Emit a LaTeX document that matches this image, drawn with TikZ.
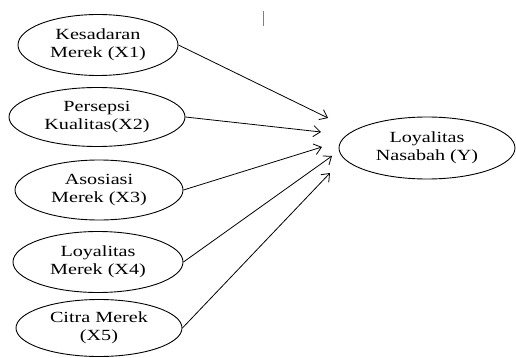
\documentclass[tikz,border=0pt]{standalone}
\usepackage{fontspec}
\setmainfont{Liberation Serif}[FakeStretch=1.3]
\usetikzlibrary{shapes.geometric,arrows.meta}

\begin{document}
\begin{tikzpicture}[x=1pt, y=-1pt,
        variabel/.style={ellipse, draw, line width=0.9pt, inner sep=0pt, align=center, font=\fontsize{15.5}{18.5}\selectfont},
        panah/.style={-{Straight Barb[length=7pt, width=11pt]}, line width=0.8pt}
    ]
    \useasboundingbox (0,0) rectangle (516,358);

    % Variabel
    \node[variabel, minimum width=160pt, minimum height=61pt] (kesadaran) at (98,45) {Kesadaran \\ Merek (X1)};
    \node[variabel, minimum width=176pt, minimum height=59pt] (persepsi) at (97,117) {Persepsi \\ Kualitas(X2)};
    \node[variabel, minimum width=168pt, minimum height=60pt] (asosiasi) at (99,190) {Asosiasi \\ Merek (X3)};
    \node[variabel, minimum width=170pt, minimum height=61pt] (loyalitas) at (98,262) {Loyalitas \\ Merek (X4)};
    \node[variabel, minimum width=166pt, minimum height=57pt] (citra) at (99,328) {Citra Merek \\ (X5)};
    \node[variabel, minimum width=176pt, minimum height=62pt] (nasabah) at (427,148) {Loyalitas \\ Nasabah (Y)};

    % Ujung panah
    \coordinate (u1) at (328,118);
    \coordinate (u2) at (321,132);
    \coordinate (u3) at (322,147);
    \coordinate (u4) at (332,156);
    \coordinate (u5) at (330,173);

    % Hubungan
    \draw[panah] (kesadaran.east) -- (u1);
    \draw[panah] (persepsi.east) -- (u2);
    \draw[panah] (asosiasi.east) -- (u3);
    \draw[panah] (loyalitas.east) -- (u4);
    \draw[panah] (citra.east) -- (u5);

    % kursor
    \coordinate (k1) at (263,11);
    \coordinate (k2) at (263,26);
    \draw[gray, line width=0.6pt] (k1) -- (k2);

\end{tikzpicture}
\end{document}
